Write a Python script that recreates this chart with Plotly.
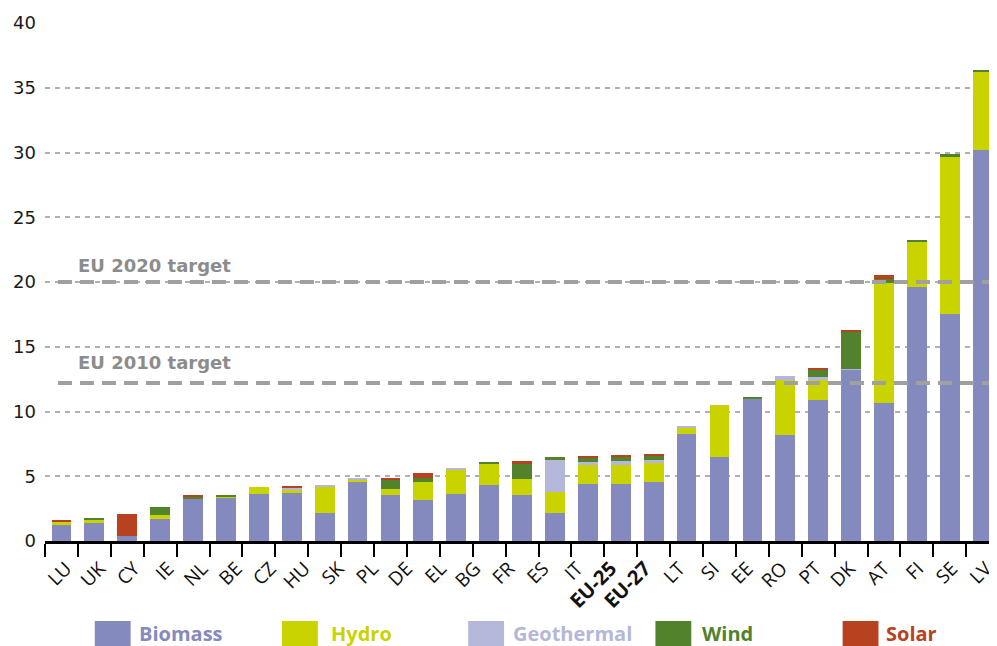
import plotly.graph_objects as go

# ---- data (29 bars, 28 axis labels as in the original) ----
bar_keys = ["LU", "UK", "CY", "IE", "NL", "BE", "CZ", "HU", "SK", "PL", "DE", "EL", "BG", "FR",
            "ES", "IT", "EU-25", "EU-27", " ", "LT", "SI", "EE", "RO", "PT", "DK", "AT", "FI", "SE", "LV"]
axis_labels = ["LU", "UK", "CY", "IE", "NL", "BE", "CZ", "HU", "SK", "PL", "DE", "EL", "BG", "FR",
               "ES", "IT", "EU-25", "EU-27", "LT", "SI", "EE", "RO", "PT", "DK", "AT", "FI", "SE", "LV"]
bold_labels = ["EU-25", "EU-27"]

biomass    = [1.22, 1.46, 0.38, 1.69, 3.23, 3.38, 3.60, 3.77, 2.15, 4.56, 3.54, 3.15, 3.62, 4.31,
              3.54, 2.15, 4.38, 4.38, 4.54, 8.23, 6.46, 11.00, 8.15, 10.92, 13.22, 10.69, 19.60, 17.50, 30.16]
hydro      = [0.27, 0.15, 0.00, 0.31, 0.00, 0.08, 0.55, 0.15, 2.08, 0.18, 0.46, 1.39, 1.84, 1.66,
              1.23, 1.65, 1.47, 1.47, 1.46, 0.54, 4.08, 0.00, 4.31, 1.54, 0.00, 9.24, 3.55, 12.20, 6.11]
geothermal = [0.00, 0.00, 0.00, 0.00, 0.00, 0.00, 0.00, 0.21, 0.07, 0.06, 0.00, 0.00, 0.16, 0.00,
              0.00, 2.51, 0.23, 0.30, 0.23, 0.08, 0.00, 0.00, 0.31, 0.23, 0.05, 0.00, 0.00, 0.00, 0.00]
wind       = [0.00, 0.16, 0.00, 0.62, 0.23, 0.08, 0.00, 0.00, 0.00, 0.00, 0.72, 0.31, 0.00, 0.11,
              1.23, 0.15, 0.38, 0.41, 0.39, 0.00, 0.00, 0.15, 0.00, 0.54, 2.90, 0.33, 0.05, 0.15, 0.08]
solar      = [0.11, 0.00, 1.70, 0.00, 0.08, 0.00, 0.00, 0.08, 0.00, 0.00, 0.15, 0.38, 0.00, 0.00,
              0.15, 0.00, 0.08, 0.06, 0.07, 0.00, 0.00, 0.00, 0.00, 0.15, 0.08, 0.31, 0.00, 0.00, 0.00]

series_names = ["Biomass", "Hydro", "Geothermal", "Wind", "Solar"]
series_colors = ["#858abe", "#c9d300", "#b4b7d9", "#52822b", "#b8421f"]

target_names = ["EU 2020 target", "EU 2010 target"]
target_values = [20.0, 12.2]

y_ticks = [0, 5, 10, 15, 20, 25, 30, 35, 40]

# ---- geometry (page pixels; the page body has an 8px margin) ----
OFF = 8
W, H = 997 - OFF, 646 - OFF
ML, MR, MT = 45 - OFF, 0, 23 - OFF
MB = H - (541 - OFF)
plot_w = W - ML - MR
plot_h = H - MT - MB
slot_px = 33.04
n_bars = len(bar_keys)
label_px = slot_px * n_bars / len(axis_labels)
label_nudge_px = 4


def px2paper_x(px):
    return (px - OFF - ML) / plot_w


def px2paper_y(py):
    return (H - MB - (py - OFF)) / plot_h


fig = go.Figure()
for name, vals, col in zip(series_names, [biomass, hydro, geothermal, wind, solar], series_colors):
    fig.add_trace(go.Bar(x=bar_keys, y=vals, name=name, marker=dict(color=col, line=dict(width=0)),
                         showlegend=False, hoverinfo="x+y+name"))

# invisible carrier trace for the label axis
fig.add_trace(go.Scatter(x=list(range(len(axis_labels))), y=[0] * len(axis_labels), xaxis="x2",
                         mode="markers", marker=dict(opacity=0), showlegend=False, hoverinfo="skip"))

shapes = []
annotations = []
label_shift = [4, 8]
for name, val, ys in zip(target_names, target_values, label_shift):
    shapes.append(dict(type="line", xref="paper", yref="y", x0=px2paper_x(58), x1=1, y0=val, y1=val,
                       line=dict(color="#a0a0a0", width=4, dash="14px,8px"), layer="above"))
    annotations.append(dict(text="<b>" + name + "</b>", xref="paper", yref="y", x=px2paper_x(76), y=val,
                            xanchor="left", yanchor="bottom", yshift=ys, showarrow=False,
                            font=dict(family="DejaVu Sans", size=18, color="#8c8c8c")))

# legend drawn as swatches + coloured labels (as in the original)
sw_x = [95, 283, 470, 658, 846]
tx_x = [137, 330, 513, 703, 888]
for name, col, sx, tx in zip(series_names, series_colors, sw_x, tx_x):
    shapes.append(dict(type="rect", xref="paper", yref="paper",
                       x0=px2paper_x(sx), x1=px2paper_x(sx + 36), y0=px2paper_y(646), y1=px2paper_y(621),
                       fillcolor=col, line=dict(width=0)))
    annotations.append(dict(text="<b>" + name + "</b>", xref="paper", yref="paper", x=px2paper_x(tx),
                            y=px2paper_y(633), xanchor="left", yanchor="middle", showarrow=False,
                            font=dict(family="Open Sans", size=20, color=col)))

ticktext = ["<b><span style='font-size:20px'>" + l + "</span></b>" if l in bold_labels else l
            for l in axis_labels]

x2_start = -0.5 - label_nudge_px / label_px

fig.update_layout(
    width=W, height=H, barmode="stack", bargap=0.4,
    margin=dict(l=ML, r=MR, t=MT, b=MB, pad=0),
    plot_bgcolor="white", paper_bgcolor="white",
    font=dict(family="Open Sans", color="#1a1a1a"),
    xaxis=dict(type="category", categoryorder="array", categoryarray=bar_keys,
               range=[-0.5, -0.5 + plot_w / slot_px], tickson="boundaries",
               ticks="outside", ticklen=13, tickwidth=1.5, tickcolor="black",
               showticklabels=False, showgrid=False, zeroline=False,
               showline=True, linecolor="black", linewidth=3, fixedrange=True),
    xaxis2=dict(overlaying="x", anchor="y", side="bottom",
                range=[x2_start, x2_start + plot_w / label_px],
                tickmode="array", tickvals=list(range(len(axis_labels))), ticktext=ticktext,
                tickangle=-45, ticks="outside", ticklen=8, tickcolor="rgba(0,0,0,0)",
                ticklabeloverflow="allow",
                tickfont=dict(family="Open Sans", size=19, color="#111111"),
                showgrid=False, zeroline=False, showline=False),
    yaxis=dict(range=[0, 40], tickmode="array", tickvals=y_ticks, ticks="",
               showgrid=True, gridcolor="#b0b0b0", gridwidth=1.5, griddash="5px,5px",
               zeroline=False, showline=False, ticklabelstandoff=8,
               tickfont=dict(family="DejaVu Sans", size=18, color="#1a1a1a")),
    shapes=shapes, annotations=annotations,
)

fig.write_html("out.html")
